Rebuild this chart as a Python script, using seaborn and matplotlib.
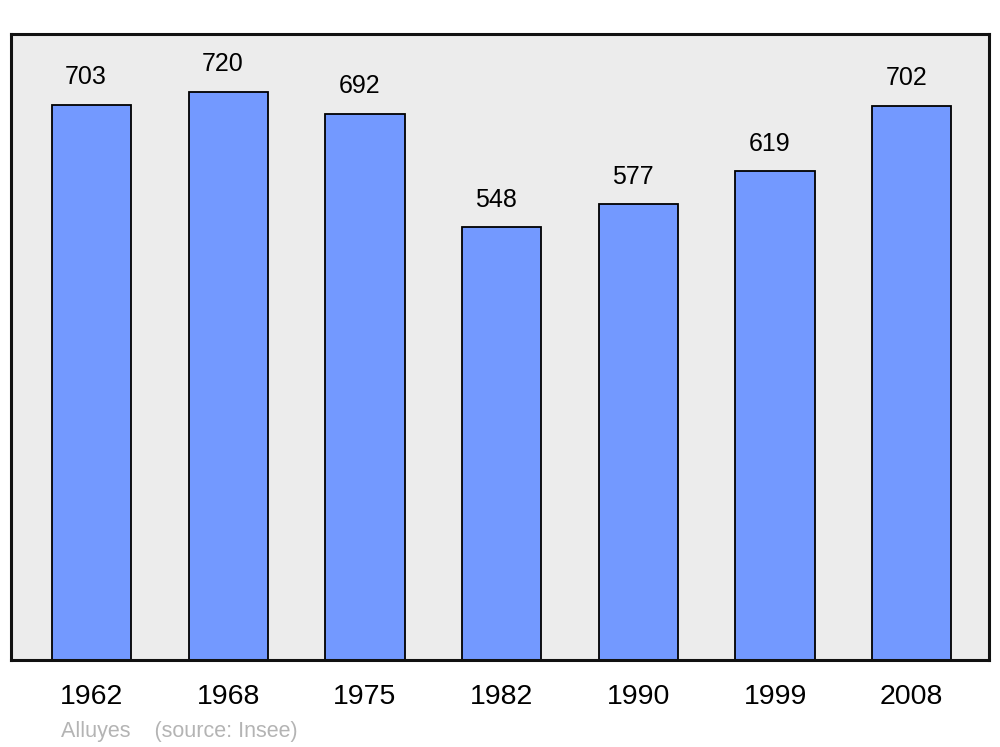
import seaborn as sns
import matplotlib.pyplot as plt
import pandas as pd

# Datos de población
annees = ['1962', '1968', '1975', '1982', '1990', '1999', '2008']
population = [703, 720, 692, 548, 577, 619, 702]

df = pd.DataFrame({'annee': annees, 'pop': population})

sns.set_style('white')
plt.rcParams['font.family'] = ['Liberation Sans', 'DejaVu Sans']

fig = plt.figure(figsize=(10, 7.47), dpi=100)
ax = fig.add_axes([0.011, 0.1165, 0.978, 0.838])
ax.set_facecolor('#ececec')

sns.barplot(data=df, x='annee', y='pop', color='#7399ff', saturation=1,
            width=0.58, edgecolor='black', linewidth=1.3, ax=ax, zorder=2)

# Valeurs au-dessus des barres
for i, v in enumerate(population):
    ax.annotate(str(v), (i, v), xytext=(-4, 20), textcoords='offset points',
                ha='center', va='center', fontsize=18, color='black')

ax.set_xlim(-0.59, 6.565)
ax.set_ylim(0, 793)
ax.set_yticks([])
ax.set_xlabel('')
ax.set_ylabel('')
ax.tick_params(axis='x', length=0, pad=17, labelsize=20.5, labelcolor='black')
for s in ax.spines.values():
    s.set_visible(True)
    s.set_linewidth(2.2)
    s.set_color('#111111')

fig.text(0.061, 0.014, 'Alluyes    (source: Insee)', fontsize=15.5,
         color='#b4b4b4', ha='left', va='baseline')

plt.savefig('out.png', dpi=100)
